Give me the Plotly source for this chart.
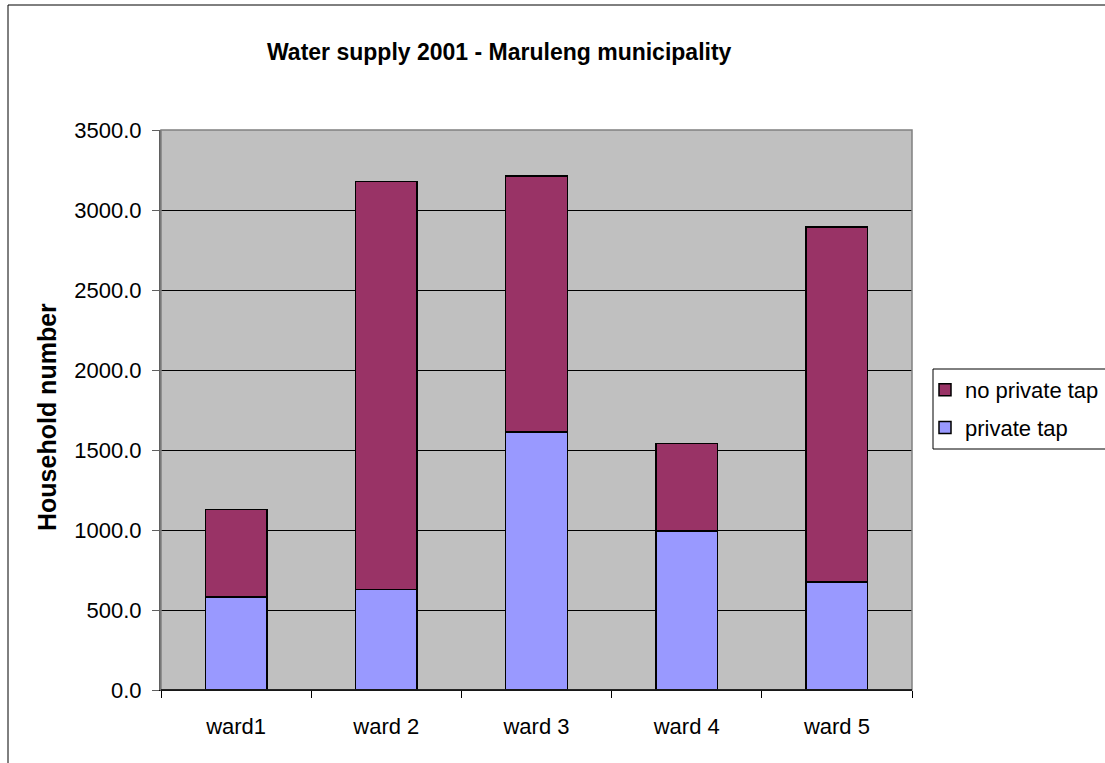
import plotly.graph_objects as go

wards = ["ward1", "ward 2", "ward 3", "ward 4", "ward 5"]
private_tap = [581, 627, 1612, 994, 675]
no_private_tap = [546, 2550, 1602, 546, 2219]
y_ticks = [0, 500, 1000, 1500, 2000, 2500, 3000, 3500]

FONT = "Liberation Sans, Arial, sans-serif"
W, H = 1105, 763
# plot area in screen pixels: x 161..912, y 130..690
L, T = 161, 130
R = W - 912
B = H - 690
pw, ph = W - L - R, H - T - B

def px_x(x):
    return (x - L) / pw

def px_y(y):
    return (H - B - y) / ph

fig = go.Figure()
fig.add_trace(go.Bar(x=wards, y=private_tap, name="private tap", legendgroup="b",
                     legendrank=2,
                     marker=dict(color="#9999FF", line=dict(color="black", width=1.5))))
fig.add_trace(go.Bar(x=wards, y=no_private_tap, name="no private tap", legendgroup="a",
                     legendrank=1,
                     marker=dict(color="#993366", line=dict(color="black", width=1.5))))

fig.update_layout(
    width=W, height=H,
    margin=dict(l=L, r=R, t=T, b=B, autoexpand=False),
    barmode="stack", bargap=0.59,
    paper_bgcolor="white", plot_bgcolor="#C0C0C0",
    font=dict(family=FONT, size=22, color="black"),
    showlegend=True,
    legend=dict(x=px_x(925), y=px_y(369), xanchor="left", yanchor="top",
                traceorder="grouped", borderwidth=0, tracegroupgap=6,
                bgcolor="rgba(0,0,0,0)", font=dict(size=22), itemclick=False),
    xaxis=dict(type="category", tickson="boundaries", ticks="outside", ticklen=7,
               tickcolor="black", showline=True, linecolor="black", linewidth=1,
               showgrid=False, ticklabelstandoff=17, fixedrange=True),
    yaxis=dict(range=[0, 3500], tickvals=y_ticks, tickformat=".1f", ticks="outside",
               ticklen=7, tickcolor="#606060", showgrid=True, gridcolor="black",
               gridwidth=1, showline=True, linecolor="#606060", linewidth=2,
               zeroline=False, ticklabelstandoff=6, fixedrange=True),
    annotations=[
        dict(text="<b>Water supply 2001 - Maruleng municipality</b>", xref="paper", yref="paper",
             x=px_x(499), y=px_y(52), xanchor="center", yanchor="middle", showarrow=False,
             font=dict(size=23, family=FONT)),
        dict(text="<b>Household number</b>", xref="paper", yref="paper",
             x=px_x(47), y=px_y(417), xanchor="center", yanchor="middle", textangle=-90,
             showarrow=False, font=dict(size=25, family=FONT)),
    ],
    shapes=[
        dict(type="rect", xref="paper", yref="paper", x0=0, x1=1, y0=0, y1=1,
             line=dict(color="#808080", width=1.5), layer="above"),
        dict(type="line", xref="paper", yref="paper", x0=0, x1=1, y0=0, y1=0,
             line=dict(color="black", width=1.5), layer="above"),
        dict(type="rect", xref="paper", yref="paper", x0=px_x(8), x1=px_x(1140),
             y0=px_y(805), y1=px_y(5), line=dict(color="black", width=1), layer="below"),
        dict(type="rect", xref="paper", yref="paper", x0=px_x(933), x1=px_x(1130),
             y0=px_y(449), y1=px_y(369), line=dict(color="black", width=1),
             fillcolor="white", layer="below"),
    ],
)

fig.write_html("out.html", config={"displayModeBar": False},
               post_script="document.body.style.margin='0';document.body.style.padding='0';")
